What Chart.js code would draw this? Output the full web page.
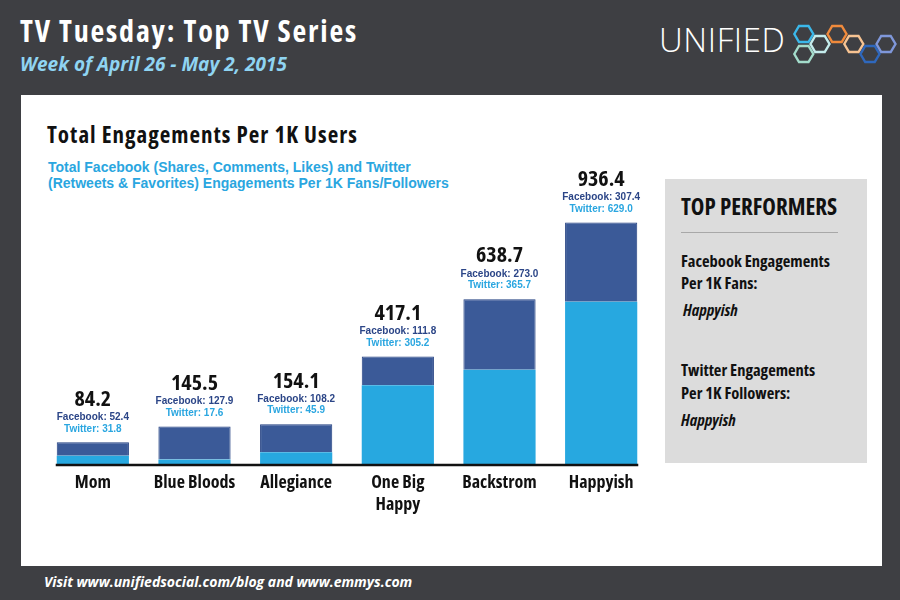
<!DOCTYPE html>
<html>
<head>
<meta charset="utf-8">
<script src="https://cdn.jsdelivr.net/npm/chart.js@4.4.1/dist/chart.umd.min.js"></script>
<style>
  body { margin: 0; width: 900px; height: 600px; background: #3e3f43; position: relative; overflow: hidden; font-family: 'Open Sans', sans-serif; }
  .t { position: absolute; white-space: nowrap; line-height: 1; font-weight: 700; font-stretch: 75%; }
  #panel { position: absolute; left: 21px; top: 95px; width: 861px; height: 471px; background: #fff; }
  #side { position: absolute; left: 665px; top: 179px; width: 202px; height: 284px; background: #dcdcdc; }
  #rule { position: absolute; left: 681px; top: 232px; width: 157px; height: 1px; background: #a8a8a8; }
  #chart { position: absolute; left: 0; top: 0; }
</style>
</head>
<body>
<div class="t" style="left:20px;top:16px;font-size:30px;color:#fff;letter-spacing:1.8px;">TV Tuesday: Top TV Series</div>
<div class="t" style="left:20px;top:55px;font-size:19px;color:#8fd4f2;font-style:italic;font-stretch:100%;">Week of April 26 - May 2, 2015</div>
<div class="t" style="left:659px;top:23px;font-size:33px;color:#fff;font-weight:300;font-stretch:100%;letter-spacing:0.6px;">UNIFIED</div>
<svg style="position:absolute;left:790px;top:20px;" width="110" height="50" viewBox="790 20 110 50">
  <g fill="none" stroke-width="2.4">
    <polygon stroke="#3bb8ea" points="794.3,34 799,26 808.5,26 813.3,34 808.5,42 799,42"/>
    <polygon stroke="#a3dccb" points="794.3,54 799,46 808.5,46 813.3,54 808.5,62 799,62"/>
    <polygon stroke="#c4ecec" points="810.5,44 815.2,36 824.7,36 829.5,44 824.7,52 815.2,52"/>
    <polygon stroke="#f08a3c" points="827.5,34 832.2,26 841.7,26 846.5,34 841.7,42 832.2,42"/>
    <polygon stroke="#f7c392" points="844.3,44 849,36 858.5,36 863.3,44 858.5,52 849,52"/>
    <polygon stroke="#2f68bd" points="860.5,54 865.2,46 874.7,46 879.5,54 874.7,62 865.2,62"/>
    <polygon stroke="#7f97da" points="876.5,44 881.2,36 890.7,36 895.5,44 890.7,52 881.2,52"/>
  </g>
</svg>
<div id="panel"></div>
<div class="t" style="left:47px;top:123px;font-size:23px;color:#111;letter-spacing:1px;">Total Engagements Per 1K Users</div>
<div style="position:absolute;left:48px;top:159px;font:bold 14px 'Liberation Sans', Arial, sans-serif;line-height:16px;color:#2aa6e0;white-space:nowrap;">Total Facebook (Shares, Comments, Likes) and Twitter<br>(Retweets &amp; Favorites) Engagements Per 1K Fans/Followers</div>
<div id="side"></div>
<div id="rule"></div>
<div class="t" style="left:681px;top:195px;font-size:23px;color:#111;">TOP PERFORMERS</div>
<div class="t" style="left:681px;top:253px;font-size:16.5px;color:#111;">Facebook Engagements</div>
<div class="t" style="left:681px;top:275px;font-size:16.5px;color:#111;">Per 1K Fans:</div>
<div class="t" style="left:683px;top:302px;font-size:16.5px;color:#111;font-style:italic;">Happyish</div>
<div class="t" style="left:681px;top:362px;font-size:16.5px;color:#111;">Twitter Engagements</div>
<div class="t" style="left:681px;top:385px;font-size:16.5px;color:#111;">Per 1K Followers:</div>
<div class="t" style="left:681px;top:412px;font-size:16.5px;color:#111;font-style:italic;">Happyish</div>
<div class="t" style="left:44px;top:575px;font-size:14px;color:#fff;font-style:italic;font-stretch:100%;">Visit www.unifiedsocial.com/blog and www.emmys.com</div>
<canvas id="chart" width="900" height="600"></canvas>
<script>
const shows = ['Mom', 'Blue Bloods', 'Allegiance', ['One Big', 'Happy'], 'Backstrom', 'Happyish'];
const facebook = [52.4, 127.9, 108.2, 111.8, 273.0, 307.4];
const twitter = [31.8, 17.6, 45.9, 305.2, 365.7, 629.0];
const totals = [84.2, 145.5, 154.1, 417.1, 638.7, 936.4];

const FB_COLOR = '#3b5a98';
const TW_COLOR = '#27a8e0';

// totals + per-network numbers above each bar, and the base line
const barLabels = {
  id: 'barLabels',
  afterDatasetsDraw(chart) {
    const ctx = chart.ctx;
    const bars = chart.getDatasetMeta(1).data;
    const base = chart.scales.y.getPixelForValue(0);
    ctx.save();
    ctx.strokeStyle = '#111';
    ctx.lineWidth = 2.5;
    ctx.beginPath();
    ctx.moveTo(bars[0].x - bars[0].width / 2 - 1, base + 1);
    ctx.lineTo(bars[bars.length - 1].x + bars[bars.length - 1].width / 2 + 1, base + 1);
    ctx.stroke();

    ctx.textAlign = 'center';
    ctx.textBaseline = 'middle';
    bars.forEach((bar, i) => {
      ctx.font = 'bold condensed 22px "Open Sans"';
      ctx.fillStyle = '#111';
      ctx.fillText(totals[i].toFixed(1), bar.x, bar.y - 43);
      ctx.font = 'bold 10px "Liberation Sans", Arial';
      ctx.fillStyle = '#2b4587';
      ctx.fillText('Facebook: ' + facebook[i].toFixed(1), bar.x, bar.y - 25);
      ctx.fillStyle = '#2aa6e0';
      ctx.fillText('Twitter: ' + twitter[i].toFixed(1), bar.x, bar.y - 13.5);
    });
    ctx.restore();
  }
};

new Chart(document.getElementById('chart'), {
  type: 'bar',
  data: {
    labels: shows,
    datasets: [
      { label: 'Twitter', data: twitter, backgroundColor: TW_COLOR },
      {
        label: 'Facebook', data: facebook, backgroundColor: FB_COLOR,
        borderColor: '#213f80', borderWidth: { top: 1, left: 1, right: 1, bottom: 0 }
      }
    ]
  },
  options: {
    responsive: false,
    animation: false,
    layout: { padding: { left: 42, right: 248, top: 206, bottom: 76 } },
    datasets: { bar: { categoryPercentage: 1, barPercentage: 0.71 } },
    scales: {
      x: {
        stacked: true,
        grid: { display: false, drawTicks: false },
        border: { display: false },
        ticks: {
          color: '#111',
          padding: 8,
          font: { family: '"Open Sans"', size: 18, weight: 'condensed bold', lineHeight: 1.2 }
        },
        afterFit: (scale) => { scale.height = 60; }
      },
      y: { stacked: true, display: false, min: 0, max: 1000 }
    },
    plugins: {
      legend: { display: false },
      tooltip: { enabled: false }
    }
  },
  plugins: [barLabels]
});
</script>
</body>
</html>
